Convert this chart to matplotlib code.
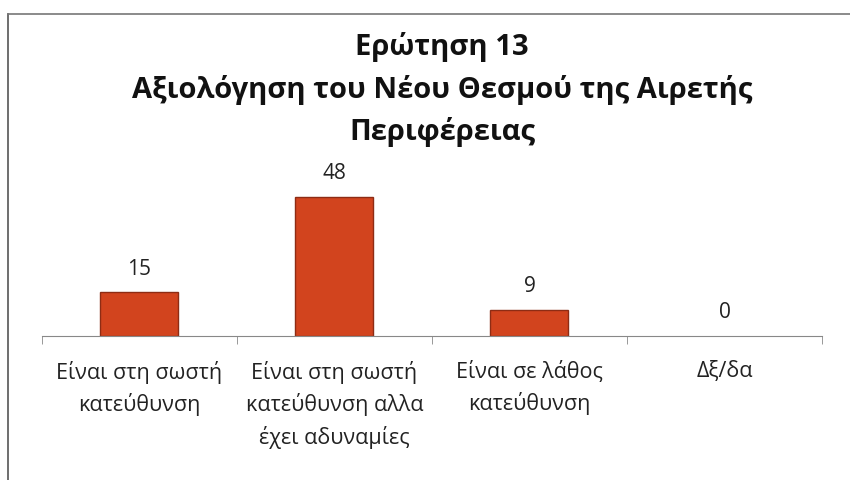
import numpy as np
import matplotlib.pyplot as plt
from matplotlib.lines import Line2D

# Data
categories = ['Είναι στη σωστή\nκατεύθυνση',
              'Είναι στη σωστή\nκατεύθυνση αλλα\nέχει αδυναμίες',
              'Είναι σε λάθος\nκατεύθυνση',
              'Δξ/δα']
values = [15, 48, 9, 0]
title_lines = ['Ερώτηση 13',
               'Αξιολόγηση του Νέου Θεσμού της Αιρετής',
               'Περιφέρειας']

plt.rcParams['font.family'] = ['Open Sans', 'DejaVu Sans']

fig = plt.figure(figsize=(8.5, 4.81), dpi=100)
ax = fig.add_axes([0.0494, 0.2994, 0.9176, 0.3015])

x = np.arange(len(categories))
# no outline on empty bars, so a zero value leaves no mark
lws = [1.0 if v > 0 else 0 for v in values]
bars = ax.bar(x, values, width=0.4, color='#d2441e', edgecolor='#8e2c14', linewidth=lws)

for xi, v in zip(x, values):
    ax.annotate(str(v), (xi, v), xytext=(0, 10), textcoords='offset points',
                ha='center', va='bottom', fontsize=15, color='#222222')

ax.set_xlim(-0.5, 3.5)
ax.set_ylim(0, 50)
ax.set_yticks([])
for s in ['top', 'right', 'left']:
    ax.spines[s].set_visible(False)
ax.spines['bottom'].set_color('#888888')

ax.set_xticks(x)
ax.set_xticklabels(categories, fontsize=15.5, color='#222222', linespacing=1.55)
ax.tick_params(axis='x', which='major', length=0, pad=17)
ax.set_xticks(np.arange(-0.5, 4, 1), minor=True)
ax.tick_params(axis='x', which='minor', length=6, color='#888888')

# Title lines
ys = [1 - 47 / 481, 1 - 90 / 481, 1 - 132 / 481]
for t, y in zip(title_lines, ys):
    fig.text(442 / 850, y, t, ha='center', va='center', fontsize=21,
             fontweight='bold', color='#111111')

# Chart frame (left and top edges)
fig.add_artist(Line2D([8 / 850, 8 / 850], [0, 1 - 15 / 481], color='#555555', lw=1.2))
fig.add_artist(Line2D([8 / 850, 1], [1 - 15 / 481, 1 - 15 / 481], color='#777777', lw=1.2))

fig.savefig('out.png', dpi=100)
